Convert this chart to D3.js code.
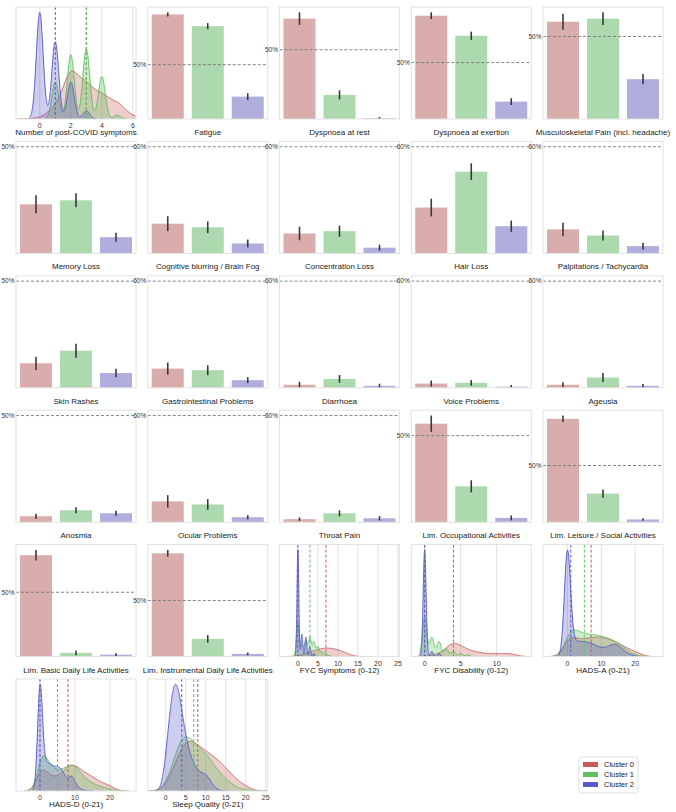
<!DOCTYPE html>
<html><head><meta charset="utf-8">
<script src="https://cdn.jsdelivr.net/npm/d3@7"></script>
<style>body{margin:0;background:#fff;} svg{display:block;font-family:"Liberation Sans",Arial,sans-serif;}</style>
</head><body><svg id="c" width="676" height="812"></svg>
<script>
// ---------- DATA ----------
const clusters = ["Cluster 0", "Cluster 1", "Cluster 2"];
const lineColors = ["#c85a5a", "#5ec25e", "#5a5ac8"];
const barColors = ["#d9adab", "#acd9ad", "#b0aedd"];

const barLabels = ["Fatigue","Dyspnoea at rest","Dyspnoea at exertion","Musculoskeletal Pain (incl. headache)",
  "Memory Loss","Cognitive blurring / Brain Fog","Concentration Loss","Hair Loss","Palpitations / Tachycardia",
  "Skin Rashes","Gastrointestinal Problems","Diarrhoea","Voice Problems","Ageusia",
  "Anosmia","Ocular Problems","Throat Pain","Lim. Occupational Activities","Lim. Leisure / Social Activities",
  "Lim. Basic Daily Life Activities","Lim. Instrumental Daily Life Activities"];
// proportion per cluster [Cluster 0, Cluster 1, Cluster 2]
const barValues = [
  [0.963,0.855,0.206],[0.725,0.174,0.005],[0.915,0.737,0.154],[0.589,0.608,0.241],
  [0.230,0.249,0.076],[0.167,0.147,0.056],[0.112,0.125,0.032],[0.258,0.460,0.153],[0.135,0.101,0.041],
  [0.115,0.174,0.069],[0.108,0.099,0.043],[0.017,0.050,0.011],[0.024,0.028,0.006],[0.017,0.058,0.011],
  [0.028,0.056,0.042],[0.117,0.100,0.028],[0.017,0.050,0.022],[0.569,0.207,0.025],[0.912,0.252,0.024],
  [0.788,0.029,0.015],[0.922,0.158,0.024]];
// 95% CI half-widths
const barErrors = [
  [0.019,0.028,0.032],[0.045,0.033,0.010],[0.030,0.037,0.030],[0.049,0.038,0.031],
  [0.042,0.033,0.021],[0.042,0.033,0.022],[0.038,0.031,0.017],[0.050,0.047,0.032],[0.038,0.028,0.019],
  [0.031,0.033,0.020],[0.034,0.028,0.017],[0.017,0.022,0.012],[0.017,0.016,0.010],[0.014,0.025,0.011],
  [0.012,0.014,0.012],[0.035,0.030,0.012],[0.010,0.017,0.012],[0.047,0.035,0.014],[0.029,0.036,0.011],
  [0.041,0.018,0.012],[0.030,0.034,0.012]];
const refValues = [0.5,0.5,0.5,0.5, 0.5,0.6,0.6,0.6,0.6, 0.5,0.6,0.6,0.6,0.6, 0.5,0.6,0.6,0.5,0.5, 0.5,0.5];
const refLabels = ["50%","50%","50%","50%", "50%","60%","60%","60%","60%", "50%","60%","60%","60%","60%",
  "50%","60%","60%","50%","50%", "50%","50%"];

const kdeLabels = ["Number of post-COVID symptoms","FYC Symptoms (0-12)","FYC Disability (0-12)",
  "HADS-A (0-21)","HADS-D (0-21)","Sleep Quality (0-21)"];
const kdeDomains = [[-1.53,6.2],[-4.6,25.4],[-1.86,14.8],[-7.2,28.2],[-6.86,27.43],[-4.5,25.5]];
const kdeTicks = [[0,2,4,6],[0,5,10,15,20,25],[0,5,10],[0,10,20],[0,10,20],[0,5,10,15,20,25]];
const kdeMedians = [[3,3,1],[7,3,0],[4,0,0],[7,5,1],[8,5,0],[8,7,4]];
const kdeBandwidths = [[0.5,0.22,0.22],[1.6,0.35,0.22],[0.8,0.3,0.2],[1.8,1.5,0.9],[1.5,1.2,0.7],[1.5,1.4,0.9]];
// weighted frequency of each score value 0,1,2,... per cluster [Cluster 0, Cluster 1, Cluster 2]
const kdeWeights = [
  [[1,12,52,36,25,17,3],[0,20,35,38,23,2],[58,42,20,4.4]],
  [[1,1.5,3,4.5,6,8,9,9.5,9,8.5,8,6,5],[30.7,10.5,14,17.5,13.2,8.8,4.4,2.6,0.9],[60.6,12.7,11,5.5,1.7]],
  [[0.6,1.2,2.4,8.4,17,11,7,5,3.6,3,3,3,3.6,0.6],[29.3,14.3,11.3,6,3.8,2.3,1.1],[53.6,2.5,1.5]],
  [[35,22,17,17,17,18,18,19,20,20,20,19,18,17,15,14,12,10,7,6,6,5],
   [32,30,28,26,24,23,22,22,22,21,21,20,18,17,16,14,11,8,5,3,2,1],
   [230,15,15,16,15,15,14,14,12,10,9,9,10,12,13,12,8,5,3,1.5,0.5]],
  [[40,25,17,14,13,14,17,21,26,29,28,24,20,18,17,15,12,9,8,7,6,4],
   [45,45,32,25,22,21,21,23,26,29,26,21,17,13,10,8,6,5,4,3,2,1],
   [179,25,30,27,25,25,24,16,10,19,9,3,1.5,0.5]],
  [[6,12,22,34,45,52,52,48,45,42,39,36,34,31,27,23,18,14,10,7,5,3],
   [8,15,28,45,58,58,52,47,44,40,37,32,26,20,15,12,8,5,3,2,1,0.5],
   [30,80,115,110,78,52,36,26,19,17,19,11,4,1]]
];

// grid order: "k<i>" = kde panel i, "b<i>" = bar panel i
const panelOrder = ["k0","b0","b1","b2","b3","b4","b5","b6","b7","b8","b9","b10","b11","b12","b13",
  "b14","b15","b16","b17","b18","b19","b20","k1","k2","k3","k4","k5"];

// ---------- DRAW ----------
const svg = d3.select("#c");
const PW = 120, PH = 112;
const frameColor = "#e2e2e2";
let clipId = 0;

function frame(g){
  g.append("rect").attr("x",0).attr("y",0).attr("width",PW).attr("height",PH)
    .attr("fill","none").attr("stroke",frameColor).attr("stroke-width",1);
}
function xlabel(g, text){
  g.append("text").attr("x",PW/2).attr("y",PH+16).attr("text-anchor","middle")
    .attr("font-size","8px").attr("fill","#222").text(text);
}

function drawBar(g, i){
  const vals = barValues[i], errs = barErrors[i], ref = refValues[i];
  const x = d3.scaleBand().domain([0,1,2]).range([0,PW]).paddingInner(0.2).paddingOuter(0.1);
  const top = Math.max(d3.max(vals.map((v,j)=>v+errs[j])), ref) * 1.05;
  const y = d3.scaleLinear().domain([0, top]).range([PH,0]);
  g.selectAll("rect.bar").data(vals).join("rect").attr("class","bar")
    .attr("x",(d,j)=>x(j)).attr("width",x.bandwidth())
    .attr("y",d=>y(d)).attr("height",d=>PH-y(d)).attr("fill",(d,j)=>barColors[j]);
  g.selectAll("line.err").data(vals).join("line").attr("class","err")
    .attr("x1",(d,j)=>x(j)+x.bandwidth()/2).attr("x2",(d,j)=>x(j)+x.bandwidth()/2)
    .attr("y1",(d,j)=>y(Math.max(0,d-errs[j]))).attr("y2",(d,j)=>y(d+errs[j]))
    .attr("stroke","#3a3a3a").attr("stroke-width",1.6);
  g.append("line").attr("x1",0).attr("x2",PW).attr("y1",y(ref)).attr("y2",y(ref))
    .attr("stroke","#777").attr("stroke-width",0.9).attr("stroke-dasharray","3,2");
  g.append("text").attr("x",-1.5).attr("y",y(ref)).attr("dy","0.35em").attr("text-anchor","end")
    .attr("font-size","6.5px").attr("fill","#333").text(refLabels[i]);
  frame(g);
  xlabel(g, barLabels[i]);
}

function kde(weights, bw, lo, hi){
  const vals = weights.map((w,v)=>[v,w]).filter(d=>d[1]>0);
  const a = Math.max(lo, d3.min(vals,d=>d[0]) - 3*bw), b = Math.min(hi, d3.max(vals,d=>d[0]) + 3*bw);
  const n = 600, pts = [];
  const norm = 1/(bw*Math.sqrt(2*Math.PI));
  for(let k=0;k<=n;k++){
    const xv = a + (b-a)*k/n;
    let s = 0;
    for(const [v,w] of vals) s += w*norm*Math.exp(-((xv-v)**2)/(2*bw*bw));
    pts.push([xv,s]);
  }
  return pts;
}

function drawKde(g, i){
  const dom = kdeDomains[i];
  const x = d3.scaleLinear().domain(dom).range([0,PW]);
  const curves = kdeWeights[i].map((w,c)=>kde(w, kdeBandwidths[i][c], dom[0], dom[1]));
  const maxD = d3.max(curves, c=>d3.max(c,d=>d[1]));
  const y = d3.scaleLinear().domain([0, maxD*1.05]).range([PH,0]);
  const id = "clip"+(clipId++);
  g.append("clipPath").attr("id",id).append("rect").attr("width",PW).attr("height",PH);
  // grid
  g.selectAll("line.grid").data(kdeTicks[i]).join("line").attr("class","grid")
    .attr("x1",d=>x(d)).attr("x2",d=>x(d)).attr("y1",0).attr("y2",PH)
    .attr("stroke","#dcdcdc").attr("stroke-width",0.9);
  const area = d3.area().x(d=>x(d[0])).y0(PH).y1(d=>y(d[1]));
  const line = d3.line().x(d=>x(d[0])).y(d=>y(d[1]));
  const cg = g.append("g").attr("clip-path",`url(#${id})`);
  curves.forEach((c,ci)=>{
    cg.append("path").attr("d",area(c)).attr("fill",lineColors[ci]).attr("fill-opacity",0.3);
    cg.append("path").attr("d",line(c)).attr("fill","none").attr("stroke",lineColors[ci]).attr("stroke-width",1);
  });
  kdeMedians[i].forEach((m,ci)=>{
    cg.append("line").attr("x1",x(m)).attr("x2",x(m)).attr("y1",0).attr("y2",PH)
      .attr("stroke",lineColors[ci]).attr("stroke-width",1).attr("stroke-dasharray","3,2");
  });
  frame(g);
  g.selectAll("text.tick").data(kdeTicks[i]).join("text").attr("class","tick")
    .attr("x",d=>x(d)).attr("y",PH+9).attr("text-anchor","middle")
    .attr("font-size","7px").attr("fill","#333").text(d=>d);
  xlabel(g, kdeLabels[i]);
}

panelOrder.forEach((p,idx)=>{
  const col = idx%5, row = Math.floor(idx/5);
  const g = svg.append("g").attr("transform",`translate(${16+col*131.75},${7+row*134.4})`);
  const i = +p.slice(1);
  if(p[0]==="k") drawKde(g,i); else drawBar(g,i);
});

// legend
const lg = svg.append("g").attr("transform","translate(579,757)");
lg.append("rect").attr("width",59).attr("height",36).attr("rx",2).attr("fill","#fff")
  .attr("stroke","#d8d8d8").attr("stroke-width",0.8);
clusters.forEach((c,i)=>{
  lg.append("rect").attr("x",4).attr("y",5+i*10).attr("width",15).attr("height",5).attr("fill",lineColors[i]);
  lg.append("text").attr("x",25).attr("y",10+i*10).attr("font-size","7.5px").attr("fill","#222").text(c);
});
</script></body></html>
